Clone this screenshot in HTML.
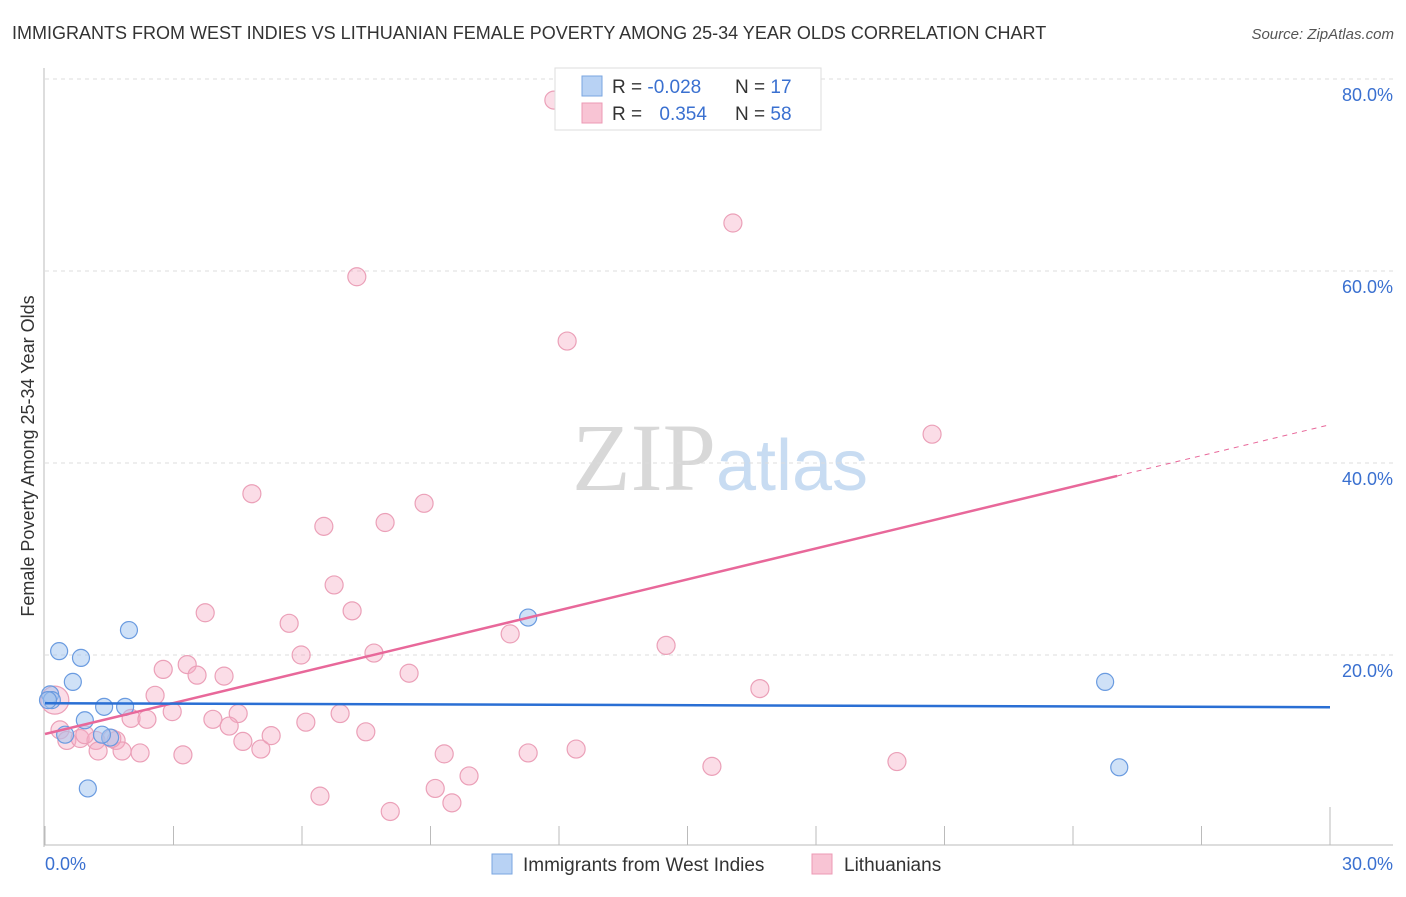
<!DOCTYPE html>
<html><head><meta charset="utf-8"><style>
body{margin:0;background:#fff;font-family:"Liberation Sans",sans-serif;}
svg text{font-family:"Liberation Sans",sans-serif;}
</style></head><body>
<svg id="chart" width="1406" height="892" viewBox="0 0 1406 892">
<text x="12" y="39" font-size="18" fill="#333">IMMIGRANTS FROM WEST INDIES VS LITHUANIAN FEMALE POVERTY AMONG 25-34 YEAR OLDS CORRELATION CHART</text>
<text x="1394" y="39" font-size="15" fill="#555" text-anchor="end" font-style="italic">Source: ZipAtlas.com</text>
<text x="720" y="490" font-size="96" text-anchor="middle"><tspan fill="#d8d8d8" font-family="Liberation Serif">ZIP</tspan><tspan fill="#c8dcf2" font-size="72">atlas</tspan></text>
<text transform="translate(34,456) rotate(-90)" font-size="18" fill="#333" text-anchor="middle">Female Poverty Among 25-34 Year Olds</text>
<g id="grid"></g><g id="axes"></g><g id="marks"></g><g id="lines"></g>
<g>
<rect x="555" y="68" width="266" height="62" fill="#fff" stroke="#ddd"/>
<rect x="582" y="76" width="20" height="20" fill="#b8d2f4" stroke="#7aa6e0"/>
<rect x="582" y="103" width="20" height="20" fill="#f8c4d4" stroke="#ec9ab4"/>
<text x="612" y="93" font-size="19" fill="#333">R = <tspan fill="#3a70d0">-0.028</tspan></text>
<text x="735" y="93" font-size="19" fill="#333">N = <tspan fill="#3a70d0"> 17</tspan></text>
<text x="612" y="120" font-size="19" fill="#333">R = <tspan fill="#3a70d0" dx="12">0.354</tspan></text>
<text x="735" y="120" font-size="19" fill="#333">N = <tspan fill="#3a70d0">58</tspan></text>
</g>
<g>
<rect x="492" y="854" width="20" height="20" fill="#b8d2f4" stroke="#7aa6e0"/>
<text x="523" y="871" font-size="19" fill="#333">Immigrants from West Indies</text>
<rect x="812" y="854" width="20" height="20" fill="#f8c4d4" stroke="#ec9ab4"/>
<text x="844" y="871" font-size="19" fill="#333">Lithuanians</text>
</g>
</svg>
<script>
const yTicks=[20,40,60,80];
const yTickLabels=["20.0%","40.0%","60.0%","80.0%"];
const xTickLabels=["0.0%","30.0%"];
const blueX=[0.12,0.16,0.33,0.65,0.84,0.93,1.38,1.52,1.87,1.96,1.00,1.33,11.28,24.75,25.08,0.47,0.07];
const blueY=[15.9,15.3,20.4,17.2,19.7,13.2,14.6,11.4,14.6,22.6,6.1,11.7,23.9,17.2,8.3,11.7,15.3];
const blueLine=[14.98,14.56];
const pinkX=[11.88,16.06,7.28,12.19,20.71,4.83,8.85,6.51,7.94,6.75,3.74,7.17,5.70,10.86,14.50,5.98,7.68,3.32,2.76,16.69,3.55,4.18,8.50,2.57,2.97,2.01,2.38,3.92,4.51,6.09,6.89,4.30,7.49,0.23,0.35,0.51,0.82,1.19,1.24,1.66,1.80,2.22,3.22,4.62,5.04,5.28,9.32,11.28,12.40,15.57,19.89,9.90,9.11,9.50,6.42,8.06,1.56,0.93];
const pinkY=[77.8,65.0,59.4,52.7,43.0,36.8,35.8,33.4,33.8,27.3,24.4,24.6,23.3,22.2,21.0,20.0,20.2,19.0,18.5,16.5,17.9,17.8,18.1,15.8,14.1,13.4,13.3,13.3,13.9,13.0,13.9,12.6,12.0,15.3,12.2,11.1,11.3,11.1,10.0,11.1,10.0,9.8,9.6,11.0,10.2,11.6,9.7,9.8,10.2,8.4,8.9,7.4,6.1,4.6,5.3,3.7,11.3,11.7];
const pinkLine=[11.77,38.65,43.99];
const pinkSolidEnd=25.03;
const xs=v=>45+v*(1285/30), ys=v=>847-v*9.6;
const NS="http://www.w3.org/2000/svg";
function mk(tag,attrs,parent){const e=document.createElementNS(NS,tag);for(const k in attrs)e.setAttribute(k,attrs[k]);document.getElementById(parent).appendChild(e);return e;}
yTicks.forEach((t,i)=>{
 const l=mk('line',{x1:45,x2:1393,y1:ys(t),y2:ys(t),stroke:'#ddd','stroke-dasharray':'4,4'},'grid');
 
 
 const tx=mk('text',{x:1393,y:ys(t)+22,'font-size':18,fill:'#3a70d0','text-anchor':'end'},'grid');tx.textContent=yTickLabels[i];
 
 
});
let ax=mk('line',{x1:44,x2:44,y1:68,y2:847,stroke:'#bbb'},'axes');


ax=mk('line',{x1:44,x2:1393,y1:845,y2:845,stroke:'#bbb'},'axes');


for(let k=0;k<=10;k++){const x=xs(k*3);const t=mk('line',{x1:x,x2:x,y1:(k==10?807:826),y2:845,stroke:'#bbb'},'axes');
 
 }
[[0,45,'start'],[30,1393,'end']].forEach((d,i)=>{const t=mk('text',{x:d[1],y:870,'font-size':18,fill:'#3a70d0','text-anchor':d[2]},'axes');t.textContent=xTickLabels[i];
 
 });
pinkX.forEach((x,i)=>{const c=mk('circle',{cx:xs(x),cy:ys(pinkY[i]),r:i==33?14:9,fill:'rgba(244,170,195,0.4)',stroke:'#eba0b8','stroke-width':1.2},'marks');
 
 });
blueX.forEach((x,i)=>{const c=mk('circle',{cx:xs(x),cy:ys(blueY[i]),r:8.5,fill:'rgba(160,195,240,0.5)',stroke:'#6a9be0','stroke-width':1.2},'marks');
 
 });
let ln=mk('line',{x1:xs(0),y1:ys(pinkLine[0]),x2:xs(pinkSolidEnd),y2:ys(pinkLine[1]),stroke:'#e8689a','stroke-width':2.5},'lines');


ln=mk('line',{x1:xs(pinkSolidEnd),y1:ys(pinkLine[1]),x2:xs(30),y2:ys(pinkLine[2]),stroke:'#e8689a','stroke-width':1,'stroke-dasharray':'5,5'},'lines');


ln=mk('line',{x1:xs(0),y1:ys(blueLine[0]),x2:xs(30),y2:ys(blueLine[1]),stroke:'#2a6fd4','stroke-width':2.5},'lines');


</script>
</body></html>
